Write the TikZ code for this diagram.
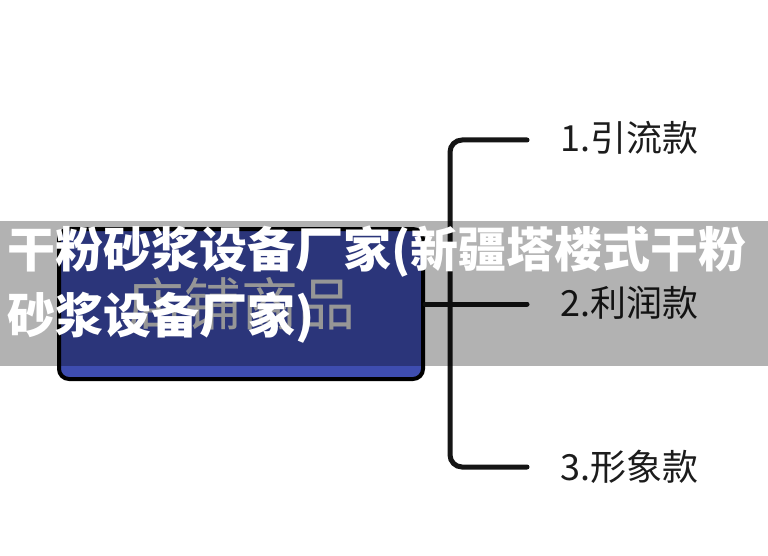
\documentclass[tikz,border=0pt]{standalone}
\usepackage{fontspec}
\newfontfamily\cjk{Noto Sans CJK SC}
\definecolor{boxblue}{HTML}{3E4DB0}
\definecolor{boxtext}{HTML}{D8D8D8}
\definecolor{linecol}{HTML}{151515}
\definecolor{labelcol}{HTML}{1C1C1C}
\begin{document}
\begin{tikzpicture}[x=1pt,y=-1pt,
  bracket/.style={line width=5pt, draw=linecol, line cap=round, rounded corners=12pt},
  itemlabel/.style={anchor=base west, inner sep=0pt, text=labelcol, font=\cjk\fontsize{36}{40}\selectfont},
  titletext/.style={anchor=base west, inner sep=0pt, text=white, font=\cjk\bfseries\fontsize{48}{56}\selectfont},
  mainbox/.style={draw=black, line width=4pt, fill=boxblue, rounded corners=10pt, minimum width=364pt, minimum height=150pt, inner sep=0pt, text=boxtext, font=\cjk\fontsize{57}{64}\selectfont},
  band/.style={fill=black, fill opacity=0.3, minimum width=768pt, minimum height=145pt, inner sep=0pt, outer sep=0pt, anchor=north west}]
\useasboundingbox (0,0) rectangle (768,556);
\fill[white] (0,0) rectangle (768,556);
\node[mainbox] (box) at (241,304) {店铺商品};
\coordinate (e1) at (527,140);
\coordinate (v1) at (450,140);
\coordinate (v3) at (450,467);
\coordinate (e3) at (527,467);
\coordinate (e2) at (527,304);
\draw[bracket] (e1) -- (v1) -- (v3) -- (e3);
\draw[bracket] (box.east) -- (e2);
\node[itemlabel] (l1) at (560,152) {1.引流款};
\node[itemlabel] (l2) at (560,316) {2.利润款};
\node[itemlabel] (l3) at (560,480) {3.形象款};
\node[band] (overlay) at (0,221) {};
\node[titletext] (t1) at (7,267) {干粉砂浆设备厂家(新疆塔楼式干粉};
\node[titletext] (t2) at (7,333) {砂浆设备厂家)};
\end{tikzpicture}
\end{document}
